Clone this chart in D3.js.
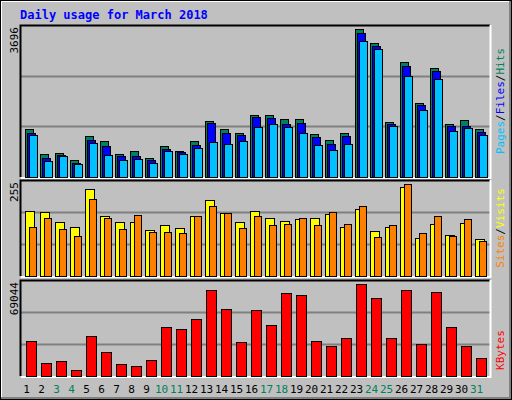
<!DOCTYPE html>
<html>
<head>
<meta charset="utf-8">
<script src="https://cdn.jsdelivr.net/npm/d3@7"></script>
<style>
  body { margin: 0; background: #fff; }
  text { font-family: "DejaVu Sans Mono", monospace; }
</style>
</head>
<body>
<div id="chart"></div>
<script>
// daily values
const days = d3.range(1, 32);
const weekends = [3, 4, 10, 11, 17, 18, 24, 25, 31];
const hits  = [1200,567,592,417,1017,892,567,642,467,767,642,892,1392,1192,1092,1542,1542,1442,1442,1067,917,1092,3696,3342,1367,2867,1842,2717,1317,1417,1192];
const files = [1092,467,542,342,917,767,517,517,417,692,617,792,1342,1092,1042,1492,1467,1317,1342,992,817,1017,3592,3267,1317,2767,1792,2642,1267,1267,1117];
const pages = [1042,392,517,317,842,542,417,442,342,642,567,717,867,817,892,1242,1317,1242,1092,792,667,817,3392,3192,1267,2517,1667,2442,1142,1217,1042];
const visits = [180,177,149,135,240,166,149,149,127,141,133,166,210,174,149,180,160,152,157,160,171,135,185,124,135,246,105,144,113,146,102];
const sites  = [135,160,130,111,213,160,130,169,122,122,119,166,193,174,133,166,141,144,160,141,177,144,193,108,141,254,119,166,111,157,97];
const kbytes = [25956,10080,11592,4788,29736,17640,9324,7812,12348,36540,35028,42588,64512,50148,25200,49392,38052,62244,60732,25956,22176,28224,69044,58464,28224,64512,23688,63000,36540,22176,13860];

const W = 512, H = 400;
const svg = d3.select("#chart").append("svg").attr("width", W).attr("height", H);

// outer bevelled frame
svg.append("rect").attr("x", 0).attr("y", 0).attr("width", W).attr("height", H).attr("fill", "#c0c0c0");
svg.append("path").attr("d", `M1,${H-1} V1 H${W-1}`).attr("stroke", "#fff").attr("stroke-width", 2).attr("fill", "none");
svg.append("path").attr("d", `M1,${H-1.5} H${W-1.5} V1`).attr("stroke", "#808080").attr("stroke-width", 3).attr("fill", "none");
svg.append("rect").attr("x", 0.5).attr("y", 0.5).attr("width", W-1).attr("height", H-1).attr("fill", "none").attr("stroke", "#000");

svg.append("text").attr("x", 20).attr("y", 19).attr("fill", "#0000ff")
  .attr("font-size", 12).attr("font-weight", "bold").text("Daily usage for March 2018");

const x = d3.scaleBand().domain(days).range([21, 486]).paddingInner(0).paddingOuter(0);
const slotX = d => x(d) + 4;

function panel(top, bottom, max, label) {
  svg.append("rect").attr("x", 20.5).attr("y", top + 0.5).attr("width", 470).attr("height", bottom - top)
    .attr("fill", "#c0c0c0");
  const y = d3.scaleLinear().domain([0, max]).range([bottom, top + 4]);
  [1, 2].forEach(i => {
    const gy = Math.round(bottom - (bottom - top) * i / 3) + 0.5;
    svg.append("line").attr("x1", 21).attr("x2", 490).attr("y1", gy).attr("y2", gy)
      .attr("stroke", "#808080").attr("stroke-width", 2);
  });
  svg.append("path").attr("d", `M20.5,${bottom} V${top + 0.5} H490`).attr("stroke", "#000").attr("stroke-width", 2).attr("fill", "none");
  svg.append("path").attr("d", `M21,${bottom + 1} H490.5 V${top}`).attr("stroke", "#fff").attr("stroke-width", 2).attr("fill", "none");
  svg.append("text").attr("transform", `translate(18,${top + 2}) rotate(-90)`)
    .attr("text-anchor", "end").attr("font-size", 11).attr("fill", "#000").text(label);
  return y;
}

function bars(y, data, offset, width, color) {
  svg.append("g").selectAll("rect").data(data).join("rect")
    .attr("x", (d, i) => slotX(days[i]) + offset + 0.5)
    .attr("y", d => Math.round(y(d)) + 0.5)
    .attr("width", width)
    .attr("height", d => y(0) - Math.round(y(d)))
    .attr("fill", color).attr("stroke", "#000").attr("stroke-width", 1);
}

const yTop = panel(25, 177, 3696, "3696");
bars(yTop, hits, 0, 8, "#00805c");
bars(yTop, files, 2, 8, "#0000ff");
bars(yTop, pages, 4, 8, "#00c0ff");

const yMid = panel(180, 276, 255, "255");
bars(yMid, visits, 0, 9, "#ffff00");
bars(yMid, sites, 4, 7, "#ff8000");

const yBot = panel(280, 376, 69044, "69044");
bars(yBot, kbytes, 1, 10, "#ff0000");

// right-side legends
function legend(cy, parts) {
  const t = svg.append("text").attr("transform", `translate(504,${cy}) rotate(-90)`)
    .attr("text-anchor", "middle").attr("font-size", 11);
  parts.forEach(([s, c]) => t.append("tspan").attr("fill", c).text(s));
}
legend(101, [["Pages", "#00c0ff"], ["/", "#000"], ["Files", "#0000ff"], ["/", "#000"], ["Hits", "#00805c"]]);
legend(228, [["Sites", "#ff8000"], ["/", "#000"], ["Visits", "#ffff00"]]);
legend(350, [["KBytes", "#ff0000"]]);

svg.append("g").selectAll("text").data(days).join("text")
  .attr("x", d => x(d) + x.bandwidth() / 2 - 2)
  .attr("y", 393).attr("text-anchor", "middle").attr("font-size", 11)
  .attr("fill", d => weekends.includes(d) ? "#00805c" : "#000")
  .text(d => d);
</script>
</body>
</html>
